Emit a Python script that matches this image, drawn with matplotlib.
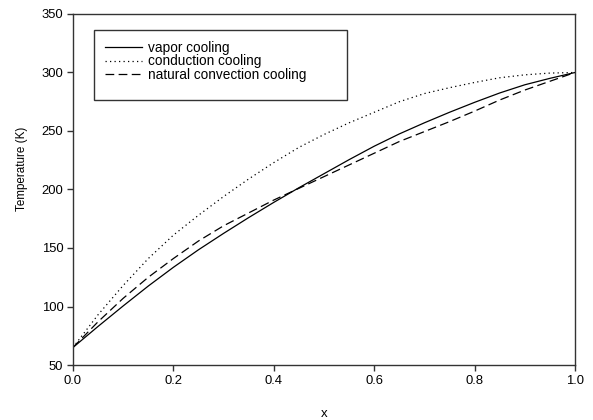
import matplotlib
matplotlib.use("Agg")
import matplotlib.pyplot as plt
from matplotlib.patches import Rectangle

plt.rcParams['font.family'] = ['Liberation Sans', 'DejaVu Sans']

# values
x = [0.0, 0.05, 0.1, 0.15, 0.2, 0.25, 0.3, 0.35, 0.4, 0.45, 0.5,
     0.55, 0.6, 0.65, 0.7, 0.75, 0.8, 0.85, 0.9, 0.95, 1.0]
vapor = [65, 83, 100.5, 117.5, 133.5, 148.5, 162.5, 176, 189, 201.5, 213.5,
         225.5, 237, 247.5, 257, 266, 274.5, 282.5, 289.5, 295, 300]
conduction = [65, 93, 118, 141, 161, 178, 194, 209, 223, 236, 247,
              257, 266, 275, 282, 287, 291.5, 295.5, 298, 299.5, 300]
convection = [65, 87, 107, 125, 141, 156, 169, 180, 191, 201, 211,
              221, 231, 241, 249.5, 258, 267, 276.5, 285, 292.5, 300]

xticks = [0.0, 0.2, 0.4, 0.6, 0.8, 1.0]
yticks = [50, 100, 150, 200, 250, 300, 350]

fig = plt.figure(figsize=(5.93, 4.2), dpi=100)
ax = fig.add_axes([73 / 593, 1 - 365 / 420, 502 / 593, 351 / 420])

ax.plot(x, vapor, color='black', lw=0.9, ls='-', label='vapor cooling')
ax.plot(x, conduction, color='black', lw=0.9, ls=(0, (1, 2.6)), label='conduction cooling')
ax.plot(x, convection, color='black', lw=0.9, ls=(0, (7, 3.5)), label='natural convection cooling')

ax.set_xlim(0, 1)
ax.set_ylim(50, 350)
ax.set_xticks(xticks)
ax.set_xticklabels([f'{t:.1f}' for t in xticks])
ax.set_yticks(yticks)

for s in ax.spines.values():
    s.set_color('#333333')
    s.set_linewidth(1.0)
ax.tick_params(direction='out', length=4, width=1.0, color='#333333',
               labelsize=9.4, top=False, right=False, pad=3)

ax.set_xlabel('x', fontsize=9.5, labelpad=15)
ax.set_ylabel('Temperature (K)', fontsize=8.4)
ax.yaxis.set_label_coords(-45 / 502, (365 - 169) / 351)

# legend frame drawn by hand: the reference box has extra room below the entries
ax.add_patch(Rectangle((21 / 502, 265 / 351), 253 / 502, 70 / 351,
                       transform=ax.transAxes, fill=False, ec='#333333', lw=1.0))
ax.legend(loc='upper left', bbox_to_anchor=(32 / 502, 324 / 351), frameon=False,
          fontsize=9.8, borderpad=0, borderaxespad=0, handlelength=2.7,
          handletextpad=0.45, labelspacing=-0.05)

fig.savefig('out.png', dpi=100)
